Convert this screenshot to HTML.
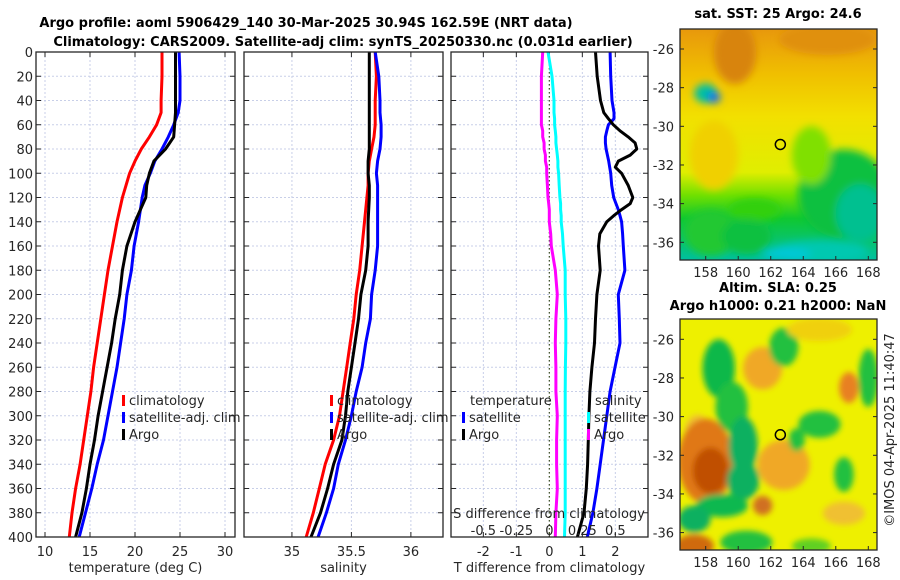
<!DOCTYPE html>
<html><head><meta charset="utf-8"><style>
body{margin:0;background:#fff;}
svg{display:block;font-family:"DejaVu Sans","Liberation Sans",sans-serif;}
</style></head><body>
<svg id="fig" width="900" height="580" viewBox="0 0 900 580" xmlns="http://www.w3.org/2000/svg">
<defs>
<filter id="blur3" x="-50%" y="-50%" width="200%" height="200%"><feGaussianBlur stdDeviation="3"/></filter>
<filter id="blur4" x="-50%" y="-50%" width="200%" height="200%"><feGaussianBlur stdDeviation="4"/></filter>
<clipPath id="clipTop"><rect x="680" y="29" width="197" height="231"/></clipPath>
<clipPath id="clipBot"><rect x="680" y="319" width="197" height="231"/></clipPath>
<linearGradient id="sstGrad" x1="0" y1="0" x2="0" y2="1">
<stop offset="0" stop-color="#e8980c"/><stop offset="0.2" stop-color="#f0c000"/><stop offset="0.38" stop-color="#f2e000"/><stop offset="0.62" stop-color="#e0ee00"/><stop offset="0.72" stop-color="#70e000"/><stop offset="0.82" stop-color="#10c830"/><stop offset="1" stop-color="#00c0a0"/>
</linearGradient>
</defs>
<text x="306" y="27" text-anchor="middle" font-size="13" font-weight="bold" fill="#000">Argo profile: aoml 5906429_140 30-Mar-2025 30.94S 162.59E (NRT data)</text>
<text x="343" y="46" text-anchor="middle" font-size="13" font-weight="bold" fill="#000">Climatology: CARS2009. Satellite-adj clim: synTS_20250330.nc (0.031d earlier)</text>
<g id="panels"></g>
<g id="maps"></g>
<text transform="translate(894,430) rotate(-90)" text-anchor="middle" font-size="13" fill="#262626">©IMOS 04-Apr-2025 11:40:47</text>
</svg>
<script>
// ---- data ----
const depths = [0,20,40,50,60,70,80,90,100,110,120,140,160,180,200,220,240,260,280,300,320,340,360,380,400];
const tempClim = [23.0,23.0,22.9,22.9,22.4,21.6,20.7,20.0,19.4,19.0,18.6,18.0,17.5,17.0,16.6,16.2,15.8,15.4,15.1,14.7,14.3,13.9,13.4,13.0,12.7];
const tempSat  = [24.9,25.0,25.0,24.8,24.3,23.7,23.0,22.2,21.7,21.1,20.8,20.4,19.9,19.6,19.1,18.8,18.4,18.0,17.5,17.0,16.5,15.8,15.2,14.5,13.8];
const tempArgo = [24.5,24.5,24.5,24.5,24.4,24.3,23.4,22.1,21.6,21.3,21.2,20.0,19.1,18.6,18.3,17.8,17.4,16.9,16.4,15.9,15.5,15.0,14.6,14.1,13.4];
const salClim = [35.70,35.71,35.70,35.70,35.70,35.69,35.67,35.65,35.64,35.64,35.63,35.61,35.59,35.57,35.54,35.52,35.49,35.46,35.43,35.40,35.35,35.28,35.23,35.18,35.12];
const salSat  = [35.70,35.73,35.74,35.74,35.75,35.75,35.74,35.72,35.71,35.72,35.72,35.72,35.72,35.70,35.67,35.66,35.62,35.59,35.54,35.50,35.45,35.39,35.35,35.29,35.22];
const salArgo = [35.65,35.65,35.65,35.65,35.65,35.65,35.65,35.64,35.64,35.65,35.65,35.64,35.64,35.62,35.58,35.56,35.53,35.50,35.47,35.45,35.42,35.35,35.30,35.24,35.16];
const diffDepths = [0,20,40,50,55,60,65,70,75,80,85,90,95,100,110,120,125,130,135,140,150,160,180,200,220,240,260,280,300,320,340,360,380,400];
const tDiffArgo = [1.40,1.45,1.55,1.65,1.79,1.94,2.14,2.39,2.60,2.65,2.45,2.09,2.00,2.19,2.39,2.53,2.45,2.19,1.95,1.74,1.53,1.49,1.54,1.44,1.40,1.37,1.29,1.23,1.20,1.18,1.16,1.12,1.05,0.85];
const tDiffSat  = [1.84,1.86,1.90,1.96,1.96,1.79,1.74,1.70,1.70,1.72,1.76,1.80,1.83,1.86,1.89,1.95,2.02,2.09,2.14,2.19,2.22,2.24,2.29,2.09,2.12,2.14,1.99,1.84,1.74,1.64,1.54,1.44,1.32,1.15];
const sDiffArgo = [-0.05,-0.06,-0.06,-0.06,-0.06,-0.06,-0.05,-0.05,-0.04,-0.04,-0.03,-0.03,-0.02,-0.02,-0.015,-0.01,-0.005,0.0,0.0,0.0,0.01,0.015,0.045,0.06,0.05,0.045,0.05,0.05,0.06,0.055,0.055,0.06,0.05,0.045];
const sDiffSat  = [-0.01,0.02,0.035,0.035,0.04,0.04,0.045,0.05,0.05,0.055,0.06,0.065,0.065,0.07,0.075,0.08,0.085,0.085,0.09,0.09,0.1,0.105,0.12,0.12,0.125,0.125,0.122,0.12,0.12,0.12,0.12,0.12,0.12,0.115];
const depthTicks = [0,20,40,60,80,100,120,140,160,180,200,220,240,260,280,300,320,340,360,380,400];
const tempTicks = [10,15,20,25,30];
const salTicks = [35,35.5,36];
const tdTicks = [-2,-1,0,1,2];
const sdTicks = [-0.5,-0.25,0,0.25,0.5];
const sdTickLabels = ["-0.5","-0.25","0","0.25","0.5"];
const lonTicks = [158,160,162,164,166,168];
const latTicks = [-26,-28,-30,-32,-34,-36];
const argoLon = 162.59, argoLat = -30.94;

const NS="http://www.w3.org/2000/svg";
const Y0=52, Y1=537;
const yD = d => Y0 + (d/400)*(Y1-Y0);
function mk(tag, attrs, parent){const e=document.createElementNS(NS,tag);for(const k in attrs)e.setAttribute(k,attrs[k]);parent.appendChild(e);return e;}
const panelsG=document.getElementById('panels');

const panels=[
 {name:'temperature-panel',x0:36,x1:235,v0:9,v1:31.11,ticks:tempTicks,labels:tempTicks.map(String),title:'temperature (deg C)'},
 {name:'salinity-panel',x0:244,x1:443,v0:34.597,v1:36.27,ticks:salTicks,labels:['35','35.5','36'],title:'salinity'},
 {name:'difference-panel',x0:451,x1:648,v0:-2.98,v1:2.99,ticks:tdTicks,labels:tdTicks.map(String),title:'T difference from climatology'}
];
panels.forEach((p,pi)=>{
  const g=mk('g',{},panelsG);
  
  
  p.sx = v => p.x0 + (v-p.v0)/(p.v1-p.v0)*(p.x1-p.x0);
  depthTicks.forEach(d=>{
    const l=mk('line',{x1:p.x0,x2:p.x1,y1:yD(d),y2:yD(d),stroke:'#c8cfe8','stroke-width':1,'stroke-dasharray':'2,2'},g);
    
    
    mk('line',{x1:p.x0,x2:p.x0+5,y1:yD(d),y2:yD(d),stroke:'#262626'},g);
    mk('line',{x1:p.x1-5,x2:p.x1,y1:yD(d),y2:yD(d),stroke:'#262626'},g);
  });
  p.ticks.forEach((t,i)=>{
    const x=p.sx(t);
    const l=mk('line',{x1:x,x2:x,y1:Y0,y2:Y1,stroke:'#c8cfe8','stroke-width':1,'stroke-dasharray':'2,2'},g);
    
    
    mk('line',{x1:x,x2:x,y1:Y1,y2:Y1-5,stroke:'#262626'},g);
    mk('line',{x1:x,x2:x,y1:Y0,y2:Y0+5,stroke:'#262626'},g);
    const tx=mk('text',{x:x,y:556,'text-anchor':'middle','font-size':13,fill:'#262626'},g);
    tx.textContent=p.labels[i];
    
    
  });
  const tt=mk('text',{x:(p.x0+p.x1)/2,y:572,'text-anchor':'middle','font-size':13,fill:'#262626'},g);
  tt.textContent=p.title;
  
  
  p.g=g;
});
depthTicks.forEach(d=>{
  const t=mk('text',{x:33,y:yD(d)+5,'text-anchor':'end','font-size':13,fill:'#262626'},panelsG);
  t.textContent=String(d);
  
  
});
function line(p, xs, ds, color, name, fn){
  const pts=xs.map((v,i)=>fn(v).toFixed(1)+','+yD(ds[i]).toFixed(1)).join(' ');
  const pl=mk('polyline',{points:pts,fill:'none',stroke:color,'stroke-width':3,'stroke-linejoin':'round'},p.g);
  
  
}
const P1=panels[0],P2=panels[1],P3=panels[2];
line(P1,tempClim,depths,'#ff0000','temp-climatology-line',P1.sx);
line(P1,tempSat,depths,'#0000ff','temp-satellite-line',P1.sx);
line(P1,tempArgo,depths,'#000000','temp-argo-line',P1.sx);
line(P2,salClim,depths,'#ff0000','sal-climatology-line',P2.sx);
line(P2,salSat,depths,'#0000ff','sal-satellite-line',P2.sx);
line(P2,salArgo,depths,'#000000','sal-argo-line',P2.sx);
const z=mk('line',{x1:P3.sx(0),x2:P3.sx(0),y1:Y0,y2:Y1,stroke:'#405020','stroke-width':1.2,'stroke-dasharray':'1.5,2.5'},P3.g);


const sdx = s => P3.sx(s*4);
line(P3,sDiffArgo,diffDepths,'#ff00ff','sal-diff-argo-line',sdx);
line(P3,sDiffSat,diffDepths,'#00ffff','sal-diff-satellite-line',sdx);
line(P3,tDiffSat,diffDepths,'#0000ff','temp-diff-satellite-line',P3.sx);
line(P3,tDiffArgo,diffDepths,'#000000','temp-diff-argo-line',P3.sx);
const sat=mk('text',{x:549,y:518,'text-anchor':'middle','font-size':13,fill:'#262626'},P3.g);
sat.textContent='S difference from climatology';


sdTicks.forEach((s,i)=>{
  const t=mk('text',{x:sdx(s),y:535,'text-anchor':'middle','font-size':13,fill:'#262626'},P3.g);
  t.textContent=sdTickLabels[i];
  
  
});
panels.forEach(p=>{
  const r=mk('rect',{x:p.x0,y:Y0,width:p.x1-p.x0,height:Y1-Y0,fill:'none',stroke:'#262626','stroke-width':1.3},p.g);
  
  
});
function legend(g,x,y,color,label){
  const lg=mk('g',{},g);
  
  
  mk('rect',{x:x,y:y-10,width:3,height:11,fill:color},lg);
  const t=mk('text',{x:x+7,y:y,'font-size':13,fill:'#262626'},lg);
  t.textContent=label;
}
legend(P1.g,122,405,'#ff0000','climatology');
legend(P1.g,122,422,'#0000ff','satellite-adj. clim');
legend(P1.g,122,439,'#000000','Argo');
legend(P2.g,330,405,'#ff0000','climatology');
legend(P2.g,330,422,'#0000ff','satellite-adj. clim');
legend(P2.g,330,439,'#000000','Argo');
const lt=mk('text',{x:470,y:405,'font-size':13,fill:'#262626'},P3.g);lt.textContent='temperature';


legend(P3.g,462,422,'#0000ff','satellite');
legend(P3.g,462,439,'#000000','Argo');
const ls=mk('text',{x:595,y:405,'font-size':13,fill:'#262626'},P3.g);ls.textContent='salinity';


legend(P3.g,587,422,'#00ffff','satellite');
legend(P3.g,587,439,'#ff00ff','Argo');

// ---- maps ----
const mapsG=document.getElementById('maps');
function mapAxes(name,latTop){
  const g=mk('g',{},mapsG);
  
  
  const lx = lon => 705.7 + (lon-158)*16.26;
  const ly = lat => latTop + (-26-lat)*19.33;
  return {g,lx,ly};
}
function finishMap(m,top,bot,titles){
  latTicks.forEach(l=>{
    const y=m.ly(l);
    mk('line',{x1:680,x2:684,y1:y,y2:y,stroke:'#262626'},m.g);
    mk('line',{x1:873,x2:877,y1:y,y2:y,stroke:'#262626'},m.g);
    const t=mk('text',{x:674,y:y+5,'text-anchor':'end','font-size':13,fill:'#262626'},m.g);
    t.textContent=String(l);
    
    
  });
  lonTicks.forEach(l=>{
    const x=m.lx(l);
    mk('line',{x1:x,x2:x,y1:bot,y2:bot-4,stroke:'#262626'},m.g);
    const t=mk('text',{x:x,y:bot+17,'text-anchor':'middle','font-size':13,fill:'#262626'},m.g);
    t.textContent=String(l);
    
    
  });
  const r=mk('rect',{x:680,y:top,width:197,height:bot-top,fill:'none',stroke:'#262626','stroke-width':1.3},m.g);
  
  
  const c=mk('circle',{cx:m.lx(argoLon),cy:m.ly(argoLat),r:5,fill:'none',stroke:'#000','stroke-width':1.5},m.g);
  
  
  titles.forEach(([txt,y])=>{
    const t=mk('text',{x:778,y:y,'text-anchor':'middle','font-size':13,'font-weight':'bold',fill:'#000'},m.g);
    t.textContent=txt;
    
    
  });
}
function blobs(m,clip,list,filt){
  const bg=mk('g',{'clip-path':'url(#'+clip+')'},m.g);
  const inner=mk('g',{filter:'url(#'+filt+')'},bg);
  list.forEach(([lon,lat,rx,ry,col])=>{
    mk('ellipse',{cx:m.lx(lon),cy:m.ly(lat),rx:rx*16.26,ry:ry*19.33,fill:col},inner);
  });
  return bg;
}
const m1=mapAxes('sst-map',49);
const r1=mk('rect',{x:680,y:29,width:197,height:231,fill:'url(#sstGrad)'},m1.g);


blobs(m1,'clipTop',[
 [159.8,-26.2,1.3,1.6,'#d88410'],[165.5,-25.5,3,0.8,'#e09010'],[166.5,-33.5,2.8,2.3,'#10c040'],
 [167.5,-34.5,1.5,1.5,'#00c090'],[161,-34.3,1.6,0.6,'#30d010'],[165,-36.5,3,0.6,'#00c8b0'],
 [163,-36.6,1.5,0.3,'#00c8d8'],[158.3,-35.5,1.6,1.2,'#20c830'],[160.5,-35.7,1.5,0.9,'#10c040'],
 [158,-28.3,0.7,0.5,'#00c0a0'],[158.5,-28.5,0.4,0.3,'#1070f0'],[164.5,-31.5,1.2,1.5,'#80e000'],
 [158.5,-31.5,1.5,1.8,'#f0d000']
],'blur4');
finishMap(m1,29,260,[['sat. SST: 25 Argo: 24.6',18]]);
const m2=mapAxes('sla-map',339.3);
const r2=mk('rect',{x:680,y:319,width:197,height:231,fill:'#eef000'},m2.g);


blobs(m2,'clipBot',[
 [161.5,-27.5,1.2,1.1,'#f0a828'],[162.8,-32.5,1.6,1.3,'#f0a828'],[166.8,-28.5,0.6,0.8,'#e88020'],
 [166.5,-35,1.3,0.6,'#f0c030'],[157.5,-30.8,0.8,0.9,'#f0c030'],
 [158,-32.3,1.7,2.2,'#e07818'],[158.3,-32.8,1.1,1.2,'#c05000'],[157.3,-36.7,1.2,0.6,'#d06a10'],[161.5,-34.6,0.6,0.5,'#d07020'],
 [158.8,-27.5,1.0,1.5,'#10b848'],[159.6,-29.5,1.0,1.3,'#20c040'],[160.3,-31.5,0.9,1.5,'#10b060'],
 [160.3,-33.3,1.0,1.0,'#10b060'],[159,-34.6,1.6,0.6,'#10b850'],[157.3,-35.3,1.0,0.7,'#10b060'],
 [160.5,-36.5,1.6,0.6,'#20c040'],[162.8,-26.4,0.9,1.0,'#20c040'],[165,-30.4,1.3,0.7,'#20c040'],
 [163.6,-31.2,0.5,0.6,'#20c040'],[168,-28,0.6,1.5,'#20c040'],[166.5,-33,0.6,0.9,'#20c040'],
 [164.5,-36.7,1.2,0.4,'#60d020'],[165,-25.5,2,0.6,'#f0d010']
],'blur3');
finishMap(m2,319,550,[['Altim. SLA: 0.25',292],['Argo h1000: 0.21 h2000: NaN',310]]);
</script>
</body></html>
